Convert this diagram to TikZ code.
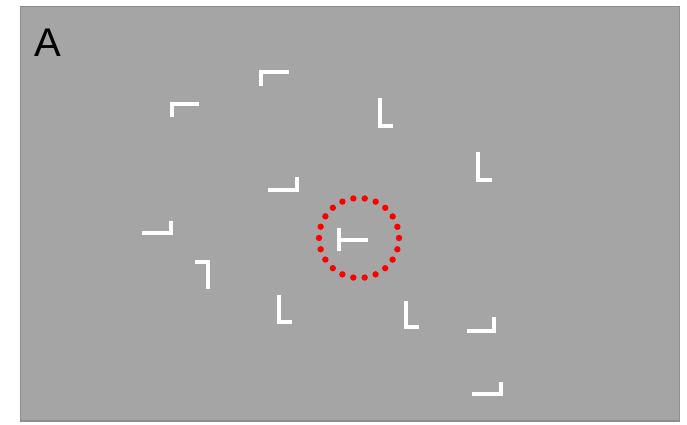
\documentclass[tikz,border=0pt]{standalone}
\usepackage{fontspec}
\setmainfont{Liberation Sans}
\definecolor{panelgray}{HTML}{A5A5A5}
\definecolor{edgegray}{HTML}{8E8E8E}
\definecolor{dotred}{HTML}{FF0000}
\tikzset{
  panel/.style={fill=panelgray, draw=edgegray, line width=1.2pt},
  glyph/.style={draw=white, line width=3.3pt, line cap=butt, line join=miter},
  ring/.style={draw=dotred, line width=6.4pt, line cap=round, dash pattern=on 0pt off 11.424pt}
}
\begin{document}
\begin{tikzpicture}[x=1pt,y=-1pt]
\useasboundingbox (0,0) rectangle (687,424);
\fill[white] (0,0) rectangle (687,424);
\draw[panel] (20.5,6.5) rectangle (679.5,421);
\node[anchor=base west, inner sep=0pt, font=\fontsize{40}{42}\selectfont] (lbl) at (34,56) {A};
% corner glyphs
\draw[glyph] (172,117) -- (172,104) -- (199,104);
\draw[glyph] (261,86) -- (261,72) -- (289,72);
\draw[glyph] (268,190) -- (297,190) -- (297,177);
\draw[glyph] (380,98) -- (380,126) -- (393,126);
\draw[glyph] (478,152) -- (478,180) -- (492,180);
\draw[glyph] (142,233) -- (171,233) -- (171,221);
\draw[glyph] (195,262) -- (208,262) -- (208,289);
\draw[glyph] (279,295) -- (279,322) -- (292,322);
\draw[glyph] (406,301) -- (406,327) -- (419,327);
\draw[glyph] (467,331) -- (494,331) -- (494,317);
\draw[glyph] (472,394) -- (501,394) -- (501,382);
% target T
\draw[glyph] (339,228) -- (339,251);
\draw[glyph] (339,240) -- (368,240);
% dotted ring
\draw[ring] (359,238) circle[radius=40];
\end{tikzpicture}
\end{document}
